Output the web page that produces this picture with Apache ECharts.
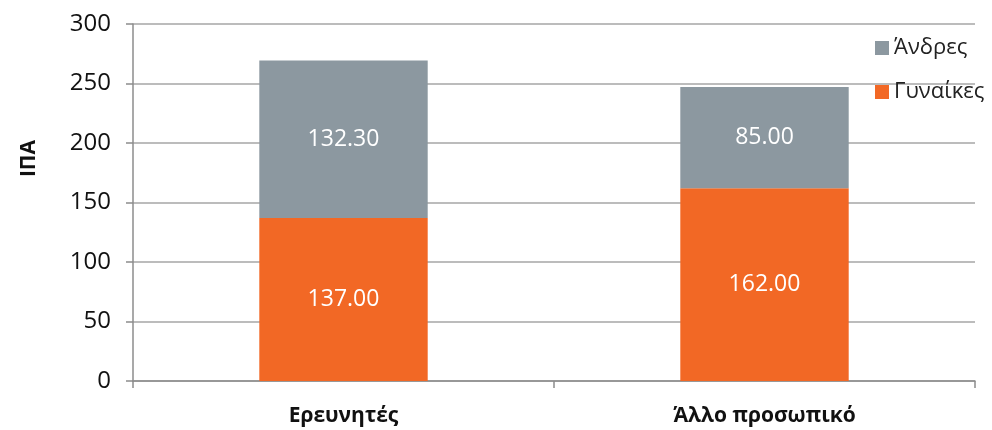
<!DOCTYPE html>
<html><head><meta charset="utf-8">
<script src="https://cdn.jsdelivr.net/npm/echarts@6/dist/echarts.min.js"></script>
<style>html,body{margin:0;padding:0;background:#fff}#c{width:992px;height:430px}</style>
</head><body><div id="c"></div>
<script>
const categories = ['Ερευνητές', 'Άλλο προσωπικό'];
const women = [137.00, 162.00];
const men = [132.30, 85.00];
const yTicks = [0, 50, 100, 150, 200, 250, 300];
const seriesNames = ['Γυναίκες', 'Άνδρες'];
const yAxisTitle = 'ΙΠΑ';

const font = 'Open Sans, Liberation Sans, sans-serif';
const chart = echarts.init(document.getElementById('c'));
chart.setOption({
  animation: false,
  grid: {left: 133, right: 17, top: 24, bottom: 49, containLabel: false},
  legend: {
    data: [seriesNames[1], seriesNames[0]],
    orient: 'vertical', left: 870, top: 32,
    itemWidth: 14, itemHeight: 14, itemGap: 22,
    icon: 'rect',
    textStyle: {fontFamily: font, fontSize: 22, color: '#222', padding: [0,0,0,0]}
  },
  xAxis: {
    type: 'category', data: categories,
    axisLine: {lineStyle: {color: '#8c8c8c', width: 1.5}},
    axisTick: {show: true, length: 7, alignWithLabel: false, lineStyle: {color: '#8c8c8c', width: 1.5}},
    axisLabel: {fontFamily: font, fontSize: 21, fontWeight: 'bold', color: '#111', margin: 25}
  },
  yAxis: {
    type: 'value', min: yTicks[0], max: yTicks[yTicks.length-1], interval: 50,
    axisLine: {show: true, lineStyle: {color: '#8c8c8c', width: 1.5}},
    axisTick: {show: true, inside: false, length: 7, lineStyle: {color: '#8c8c8c', width: 1.5}},
    splitLine: {lineStyle: {color: '#a6a6a6', width: 1.5}},
    axisLabel: {fontFamily: font, fontSize: 24, color: '#111', margin: 22}
  },
  graphic: [{
    type: 'text', left: 19, top: 140, rotation: Math.PI/2,
    style: {text: yAxisTitle, fontFamily: font, fontSize: 21, fontWeight: 'bold', fill: '#111'}
  }],
  series: [
    {name: seriesNames[0], type: 'bar', stack: 's', data: women, barWidth: '40%',
     itemStyle: {color: '#F26825'},
     label: {show: true, position: 'inside', color: '#fff', fontFamily: font, fontSize: 23,
       formatter: p => p.value.toFixed(2)}},
    {name: seriesNames[1], type: 'bar', stack: 's', data: men, barWidth: '40%',
     itemStyle: {color: '#8C98A0'},
     label: {show: true, position: 'inside', color: '#fff', fontFamily: font, fontSize: 23,
       formatter: p => p.value.toFixed(2)}}
  ]
});
</script></body></html>
